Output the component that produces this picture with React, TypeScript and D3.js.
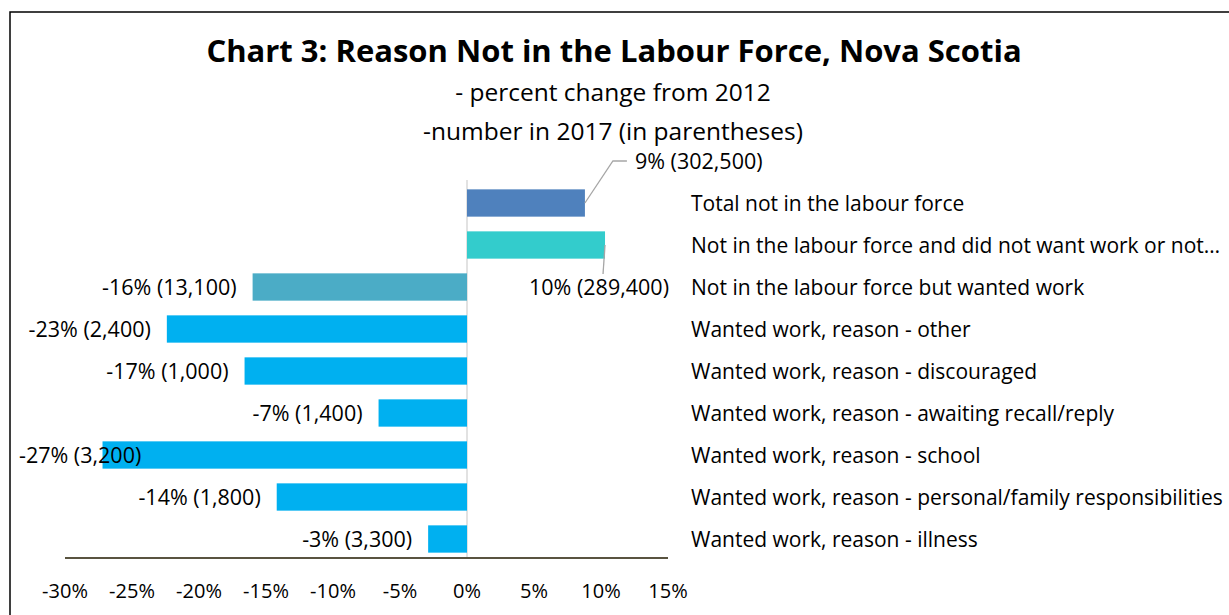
import React, { useEffect, useRef } from "react";
import * as d3 from "d3";

const categories = [
  "Total not in the labour force",
  "Not in the labour force and did not want work or not…",
  "Not in the labour force but wanted work",
  "Wanted work, reason - other",
  "Wanted work, reason - discouraged",
  "Wanted work, reason - awaiting recall/reply",
  "Wanted work, reason - school",
  "Wanted work, reason - personal/family responsibilities",
  "Wanted work, reason - illness",
];
const values = [8.8, 10.3, -16.0, -22.4, -16.6, -6.6, -27.2, -14.2, -2.9];
const valueLabels = [
  "9% (302,500)",
  "10% (289,400)",
  "-16% (13,100)",
  "-23% (2,400)",
  "-17% (1,000)",
  "-7% (1,400)",
  "-27% (3,200)",
  "-14% (1,800)",
  "-3% (3,300)",
];
const barColors = ["#4F81BD", "#33CCCC", "#4BACC6", "#00B0F0", "#00B0F0", "#00B0F0", "#00B0F0", "#00B0F0", "#00B0F0"];
const ticks = [-30, -25, -20, -15, -10, -5, 0, 5, 10, 15];
const title = "Chart 3: Reason Not in the Labour Force, Nova Scotia";
const subtitles = ["- percent change from 2012", "-number in 2017 (in parentheses)"];

const FONT = "'Open Sans', sans-serif";

export default function App() {
  const ref = useRef<SVGSVGElement>(null);
  useEffect(() => {
    const svg = d3.select(ref.current);
    svg.selectAll("*").remove();
    const W = 1229, H = 615;

    svg.append("rect").attr("x", 10).attr("y", 12).attr("width", W + 20).attr("height", H + 20)
      .attr("fill", "white").attr("stroke", "#000").attr("stroke-width", 1.5);

    svg.append("text").attr("x", 614).attr("y", 62).attr("text-anchor", "middle")
      .attr("font-family", FONT).attr("font-weight", "bold").attr("font-size", 31).attr("fill", "#000").text(title);
    subtitles.forEach((s, i) => {
      svg.append("text").attr("x", 613).attr("y", 101 + i * 39).attr("text-anchor", "middle")
        .attr("font-family", FONT).attr("font-size", 24.5).attr("fill", "#000").text(s);
    });

    const x = d3.scaleLinear().domain([-30, 15]).range([65, 668]);
    const y = d3.scaleBand().domain(categories).range([182, 560]).paddingInner(0.35).paddingOuter(0.175);

    svg.append("line").attr("x1", x(0)).attr("x2", x(0)).attr("y1", 180).attr("y2", 558)
      .attr("stroke", "#d9d9d9").attr("stroke-width", 1.5);

    svg.selectAll("rect.bar").data(values).enter().append("rect").attr("class", "bar")
      .attr("x", (d) => x(Math.min(0, d)))
      .attr("width", (d) => Math.abs(x(d) - x(0)))
      .attr("y", (_, i) => y(categories[i])!)
      .attr("height", y.bandwidth())
      .attr("fill", (_, i) => barColors[i]);

    svg.append("line").attr("x1", x(-30)).attr("x2", x(15)).attr("y1", 558).attr("y2", 558)
      .attr("stroke", "#595340").attr("stroke-width", 2);

    ticks.forEach((t) => {
      svg.append("text").attr("x", x(t)).attr("y", 598).attr("text-anchor", "middle")
        .attr("font-family", FONT).attr("font-size", 20).attr("fill", "#000").text(`${t}%`);
    });

    categories.forEach((c) => {
      svg.append("text").attr("x", 691).attr("y", y(c)! + y.bandwidth() / 2 + 7.5)
        .attr("font-family", FONT).attr("font-size", 21).attr("fill", "#000").text(c);
    });

    const VF = 21.5;
    values.forEach((v, i) => {
      const cy = y(categories[i])! + y.bandwidth() / 2;
      if (i === 0) {
        const bx = x(v), by = cy;
        svg.append("polyline").attr("points", `${bx},${by} ${bx + 28},${161} ${bx + 42},${161}`)
          .attr("fill", "none").attr("stroke", "#a6a6a6").attr("stroke-width", 1.3);
        svg.append("text").attr("x", bx + 50).attr("y", 169).attr("font-family", FONT)
          .attr("font-size", VF).attr("fill", "#000").text(valueLabels[i]);
      } else if (i === 1) {
        const bx = x(v);
        svg.append("line").attr("x1", bx).attr("y1", cy).attr("x2", bx - 2).attr("y2", 274)
          .attr("stroke", "#a6a6a6").attr("stroke-width", 1.3);
        svg.append("text").attr("x", bx - 6).attr("y", 295).attr("text-anchor", "middle").attr("font-family", FONT)
          .attr("font-size", VF).attr("fill", "#000").text(valueLabels[i]);
      } else {
        const t = svg.append("text").attr("x", x(v) - 16).attr("y", cy + 8).attr("text-anchor", "end")
          .attr("font-family", FONT).attr("font-size", VF).attr("fill", "#000").text(valueLabels[i]);
        const w = (t.node() as SVGTextElement).getComputedTextLength();
        if (x(v) - 16 - w < 19) {
          t.attr("text-anchor", "start").attr("x", 19);
        }
      }
    });
  }, []);
  return (
    <svg ref={ref} width={1229} height={615} style={{ position: "absolute", left: 0, top: 0, background: "white" }} />
  );
}
